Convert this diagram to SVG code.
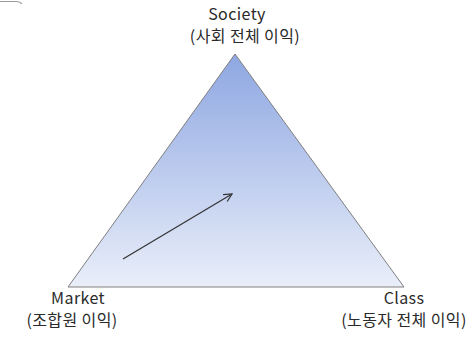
<svg xmlns="http://www.w3.org/2000/svg" width="472" height="340" viewBox="0 0 472 340">
<style>
.lbl{font-family:"Noto Sans CJK KR","Noto Sans",sans-serif;font-size:16px;fill:#2a2a2a;text-anchor:middle;letter-spacing:0.4px}
</style>
<defs>
<linearGradient id="g" x1="0" y1="0" x2="0" y2="1">
<stop offset="0" stop-color="#8ea7e2"/>
<stop offset="1" stop-color="#e9eef9"/>
</linearGradient>
<marker id="ah" markerWidth="10" markerHeight="10" refX="9" refY="5" orient="auto" markerUnits="userSpaceOnUse">
<path d="M1,1 L9,5 L1,9" fill="none" stroke="#333" stroke-width="1.2"/>
</marker>
</defs>
<path d="M0,1.5 L16,1.5 Q20,1.5 22,4" fill="none" stroke="#999" stroke-width="1.2"/>
<g id="triangle">
<polygon points="235,54 68,287 404,287" fill="url(#g)" stroke="#7f7f7f" stroke-width="1"/>
</g>
<g id="society">
<text class="lbl" x="237" y="20">Society</text>
<text class="lbl" x="245" y="42">(사회 전체 이익)</text>
</g>
<g id="market">
<text class="lbl" x="78" y="304">Market</text>
<text class="lbl" x="72" y="326">(조합원 이익)</text>
</g>
<g id="class">
<text class="lbl" x="404" y="304">Class</text>
<text class="lbl" x="404" y="326">(노동자 전체 이익)</text>
</g>
<g id="connectors">
<line x1="123" y1="259" x2="232" y2="194" stroke="#333" stroke-width="1.2" marker-end="url(#ah)"/>
</g>
</svg>
